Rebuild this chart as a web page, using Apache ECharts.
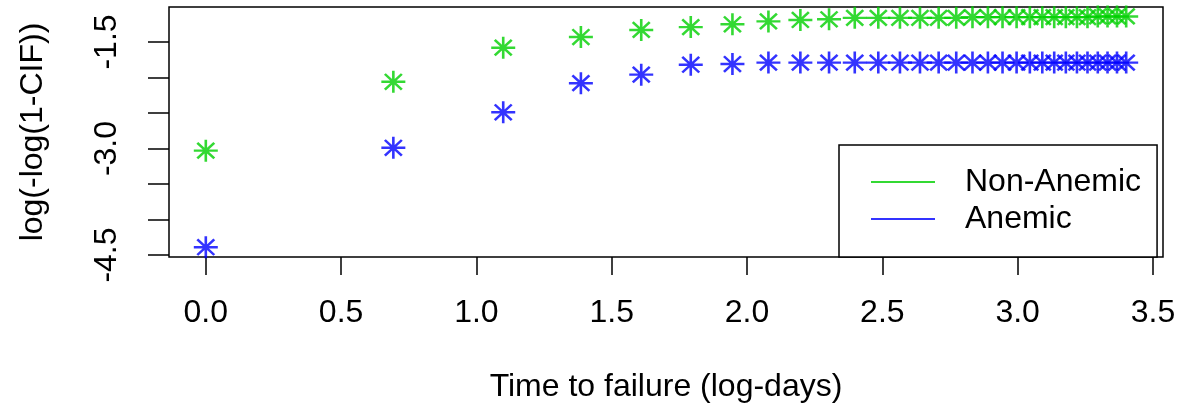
<!DOCTYPE html>
<html>
<head>
<meta charset="utf-8">
<script src="https://cdn.jsdelivr.net/npm/echarts@6/dist/echarts.min.js"></script>
<style>
html,body{margin:0;padding:0;background:#fff;}
#chart{width:1185px;height:411px;}
</style>
</head>
<body>
<div id="chart"></div>
<script>
// log of days 1..30
var logDays = [0, 0.693, 1.099, 1.386, 1.609, 1.792, 1.946, 2.079, 2.197, 2.303,
  2.398, 2.485, 2.565, 2.639, 2.708, 2.773, 2.833, 2.890, 2.944, 2.996,
  3.045, 3.091, 3.135, 3.178, 3.219, 3.258, 3.296, 3.332, 3.367, 3.401];
var nonAnemic = [-3.03, -2.06, -1.58, -1.43, -1.33, -1.29, -1.25, -1.21, -1.19, -1.18,
  -1.16, -1.16, -1.16, -1.16, -1.16, -1.16, -1.15, -1.15, -1.15, -1.15,
  -1.15, -1.15, -1.15, -1.15, -1.15, -1.15, -1.14, -1.14, -1.14, -1.14];
var anemic = [-4.39, -2.99, -2.49, -2.08, -1.96, -1.82, -1.81, -1.79, -1.79, -1.79,
  -1.79, -1.79, -1.79, -1.79, -1.79, -1.79, -1.79, -1.79, -1.79, -1.79,
  -1.79, -1.79, -1.79, -1.79, -1.79, -1.79, -1.79, -1.79, -1.79, -1.79];
var seriesNames = ['Non-Anemic', 'Anemic'];
var xTicks = [0, 0.5, 1.0, 1.5, 2.0, 2.5, 3.0, 3.5];
var yTicks = [-4.5, -4.0, -3.5, -3.0, -2.5, -2.0, -1.5];
var yLabels = [-4.5, -3.0, -1.5];
var xTitle = 'Time to failure (log-days)';
var yTitle = 'log(-log(1-CIF))';

var FONT = '"Liberation Sans", Arial, sans-serif';
var GREEN = '#00d000';
var BLUE = '#0000ff';
var star = 'path://M-1,0L1,0M0,-1L0,1M-0.707,-0.707L0.707,0.707M-0.707,0.707L0.707,-0.707';

function pairs(xs, ys) { return xs.map(function (x, i) { return [x, ys[i]]; }); }

var chart = echarts.init(document.getElementById('chart'));
chart.setOption({
  animation: false,
  backgroundColor: '#fff',
  grid: { left: 169, right: 22, top: 7, bottom: 154, show: true, borderColor: '#000', borderWidth: 1.5, backgroundColor: 'transparent' },
  xAxis: {
    type: 'value', min: -0.136, max: 3.537,
    axisLine: { show: false, onZero: false },
    splitLine: { show: false },
    axisTick: { show: true, inside: false, length: 18, customValues: xTicks, lineStyle: { color: '#000', width: 1.5 } },
    axisLabel: { customValues: xTicks, margin: 40, color: '#000', fontFamily: FONT, fontSize: 32,
      formatter: function (v) { return v.toFixed(1); } },
    name: xTitle, nameLocation: 'middle', nameGap: 114,
    nameTextStyle: { color: '#000', fontFamily: FONT, fontSize: 32 }
  },
  yAxis: {
    type: 'value', min: -4.528, max: -1.007,
    axisLine: { show: false, onZero: false },
    splitLine: { show: false },
    axisTick: { show: true, inside: false, length: 21, customValues: yTicks, lineStyle: { color: '#000', width: 1.5 } },
    axisLabel: { customValues: yLabels, rotate: 90, margin: 46, color: '#000', fontFamily: FONT, fontSize: 32,
      formatter: function (v) { return v.toFixed(1); } },
    name: yTitle, nameLocation: 'middle', nameGap: 120, nameRotate: 90,
    nameTextStyle: { color: '#000', fontFamily: FONT, fontSize: 32 }
  },
  legend: {
    orient: 'vertical', left: 839, top: 145,
    padding: [21, 16, 22, 32], itemGap: 5,
    itemWidth: 64, itemHeight: 2,
    borderColor: '#000', borderWidth: 1.5, backgroundColor: '#fff',
    itemStyle: { borderWidth: 0 },
    textStyle: { color: '#000', fontFamily: FONT, fontSize: 32, padding: [0, 0, 0, 25] },
    data: [{ name: seriesNames[0], icon: 'rect' }, { name: seriesNames[1], icon: 'rect' }]
  },
  series: [
    { name: seriesNames[0], type: 'scatter', data: pairs(logDays, nonAnemic),
      symbol: star, symbolSize: [24, 22],
      itemStyle: { color: GREEN, borderColor: GREEN, borderWidth: 2.5 } },
    { name: seriesNames[1], type: 'scatter', data: pairs(logDays, anemic),
      symbol: star, symbolSize: [24, 22],
      itemStyle: { color: BLUE, borderColor: BLUE, borderWidth: 2.5 } }
  ]
});
</script>
</body>
</html>
